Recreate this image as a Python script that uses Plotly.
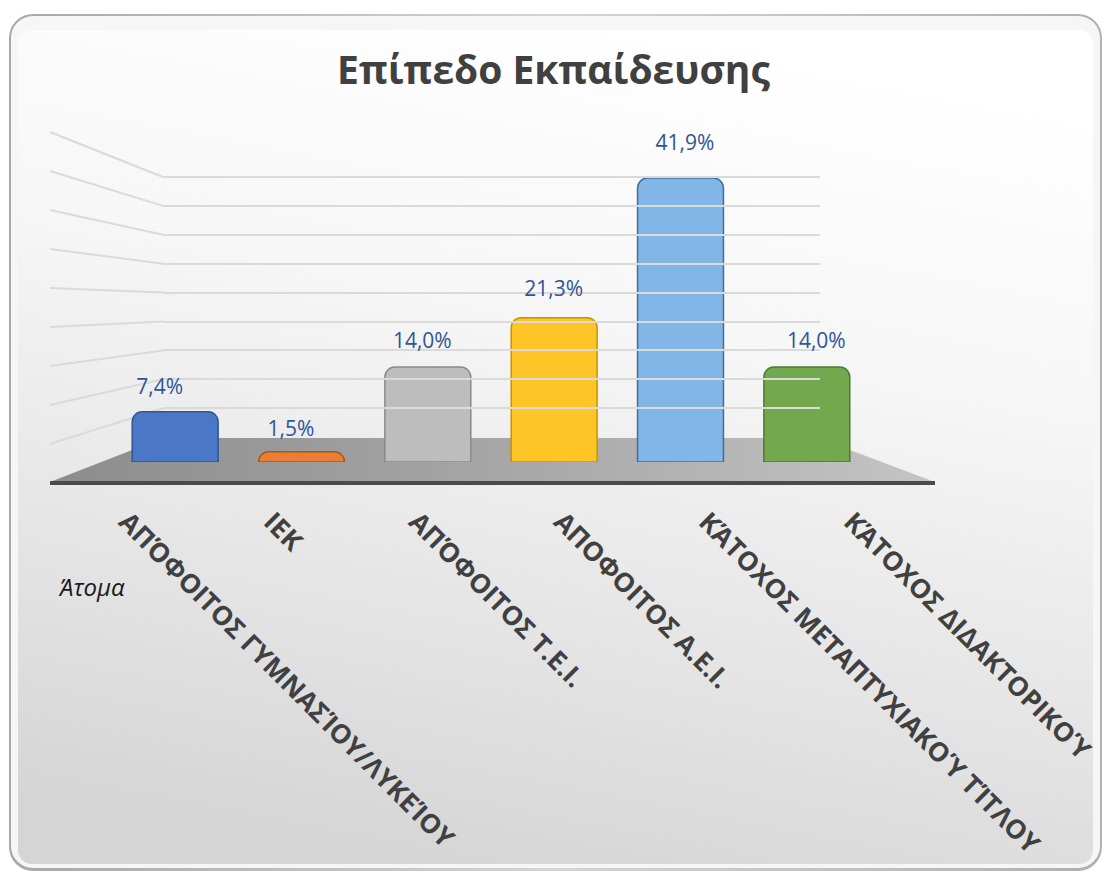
import base64
import plotly.graph_objects as go

W, H = 1107, 872

# ---------------- data ----------------
categories = [
    "ΑΠΌΦΟΙΤΟΣ ΓΥΜΝΑΣΊΟΥ/ΛΥΚΕΊΟΥ",
    "ΙΕΚ",
    "ΑΠΌΦΟΙΤΟΣ Τ.Ε.Ι.",
    "ΑΠΟΦΟΙΤΟΣ Α.Ε.Ι.",
    "ΚΆΤΟΧΟΣ ΜΕΤΑΠΤΥΧΙΑΚΟΎ ΤΊΤΛΟΥ",
    "ΚΆΤΟΧΟΣ ΔΙΔΑΚΤΟΡΙΚΟΎ",
]
percent = [7.4, 1.5, 14.0, 21.3, 41.9, 14.0]
grid_values = [10, 15, 20, 25, 30, 35, 40, 45, 50]
title_text = "Επίπεδο Εκπαίδευσης"
y_title = "Άτομα"

# ---------------- styles ----------------
bar_colors = ["#4a78c6", "#ed7d31", "#bdbdbd", "#ffc526", "#82b6e6", "#74a84f"]
edge_colors = ["#2f5597", "#a9561d", "#8a8a8a", "#c99400", "#3f6f9f", "#4e7a32"]
label_color = "#2f5597"
text_color = "#404040"
FONT = "Open Sans"


def fx(px):
    return px / W


def fy(py):
    return 1 - py / H


labels = [f"{v:.1f}%".replace(".", ",") for v in percent]

# background (frame + gradient panel + floor) as an inline SVG image
svg = f"""<svg xmlns="http://www.w3.org/2000/svg" width="{W}" height="{H}" viewBox="0 0 {W} {H}" preserveAspectRatio="none">
<defs>
<linearGradient id="bg" x1="0.6" y1="0" x2="0.35" y2="1">
<stop offset="0" stop-color="#ffffff"/>
<stop offset="0.35" stop-color="#f6f6f6"/>
<stop offset="0.7" stop-color="#e5e5e5"/>
<stop offset="1" stop-color="#d5d5d5"/>
</linearGradient>
<linearGradient id="fl" x1="0" y1="0" x2="1" y2="0">
<stop offset="0" stop-color="#8c8c8c"/>
<stop offset="0.5" stop-color="#a6a6a6"/>
<stop offset="1" stop-color="#c4c4c4"/>
</linearGradient>
<linearGradient id="edge" x1="0" y1="0" x2="1" y2="0">
<stop offset="0" stop-color="#a8a8a8"/>
<stop offset="0.5" stop-color="#d4d4d4"/>
<stop offset="1" stop-color="#b0b0b0"/>
</linearGradient>
</defs>
<rect x="0" y="0" width="{W}" height="{H}" fill="#ffffff"/>
<rect x="9" y="14" width="1093" height="857" rx="24" fill="url(#edge)"/>
<rect x="11" y="16" width="1089" height="852" rx="22" fill="#f6f6f6"/>
<rect x="18" y="30" width="1075" height="834" rx="14" fill="url(#bg)"/>
<path d="M163,438 L818,438 L935,482 L50,482 Z" fill="url(#fl)"/>
<rect x="50" y="481" width="885" height="4" fill="#4a4a4a"/>
</svg>"""
svg_uri = "data:image/svg+xml;base64," + base64.b64encode(svg.encode("utf-8")).decode("ascii")

fig = go.Figure()

# back-wall gridlines come from this (invisible) subplot's y axis
fig.add_trace(go.Scatter(
    x=categories, y=percent, xaxis="x2", yaxis="y2",
    mode="markers", marker=dict(opacity=0), hoverinfo="skip", showlegend=False,
))

# category tick labels along the front edge of the floor
fig.add_trace(go.Scatter(
    x=categories, y=percent, xaxis="x3", yaxis="y3",
    mode="markers", marker=dict(opacity=0), hoverinfo="skip", showlegend=False,
))

# the bars
fig.add_trace(go.Bar(
    x=categories, y=percent, xaxis="x", yaxis="y",
    width=0.68,
    marker=dict(color=bar_colors, line=dict(color=edge_colors, width=1.5), cornerradius=10),
    hoverinfo="x+y", showlegend=False,
))

# data labels
fig.add_trace(go.Scatter(
    x=categories, y=percent, xaxis="x4", yaxis="y4",
    mode="text", text=labels, textposition="middle center",
    textfont=dict(family=FONT, size=21, color=label_color),
    hoverinfo="skip", showlegend=False,
))

# side-wall gridlines (perspective)
shapes = []
for v in grid_values:
    shapes.append(dict(
        type="line", xref="paper", yref="paper",
        x0=fx(50), y0=fy(132 + 7.8 * (50 - v)),
        x1=fx(163), y1=fy(466 - 5.78 * v),
        line=dict(color="#dadada", width=2), layer="below",
    ))

Y2_MAX = 51
fig.update_layout(
    width=W, height=H,
    margin=dict(l=0, r=0, t=0, b=0, autoexpand=False),
    paper_bgcolor="#ffffff",
    plot_bgcolor="rgba(0,0,0,0)",
    images=[dict(source=svg_uri, xref="paper", yref="paper", x=0, y=1,
                 sizex=1, sizey=1, xanchor="left", yanchor="top",
                 sizing="stretch", layer="below")],
    shapes=shapes,
    title=dict(text=title_text, x=0.5, xanchor="center", y=fy(70), yanchor="middle",
               font=dict(family=FONT, size=39, color=text_color, weight="bold")),
    annotations=[dict(text=y_title, xref="paper", yref="paper", x=fx(56), y=fy(586),
                      xanchor="left", yanchor="middle", showarrow=False,
                      font=dict(family=FONT, size=24, color="#1a1a1a", style="italic"))],
    xaxis=dict(domain=[fx(112), fx(870)], range=[-0.5, 5.5], showticklabels=False,
               showgrid=False, zeroline=False, showline=False, ticks="", automargin=False),
    yaxis=dict(domain=[fy(462), fy(157)], range=[0, 45], visible=False, showgrid=False,
               automargin=False),
    xaxis2=dict(domain=[fx(163), fx(820)], anchor="y2", range=[-0.5, 5.5],
                visible=False, showgrid=False, automargin=False),
    yaxis2=dict(domain=[fy(466), fy(466 - 5.78 * Y2_MAX)], anchor="x2", range=[0, Y2_MAX],
                tickvals=grid_values,
                showticklabels=False, showgrid=True, gridcolor="#dadada", gridwidth=2,
                zeroline=False, showline=False, ticks="", automargin=False),
    xaxis3=dict(domain=[fx(54), fx(924)], anchor="y3", range=[-0.5, 5.5],
                tickangle=45, showgrid=False, zeroline=False, showline=False, ticks="",
                automargin=False,
                tickfont=dict(family=FONT, size=26.5, color=text_color, weight="bold")),
    yaxis3=dict(domain=[fy(500), fy(495)], anchor="x3", visible=False, range=[100, 200],
                automargin=False),
    xaxis4=dict(domain=[fx(94), fx(882)], anchor="y4", range=[-0.5, 5.5], visible=False,
                automargin=False),
    yaxis4=dict(domain=[fy(441.6), fy(123)], anchor="x4", range=[0, 45], visible=False,
                automargin=False),
)

fig.write_html("out.html")
